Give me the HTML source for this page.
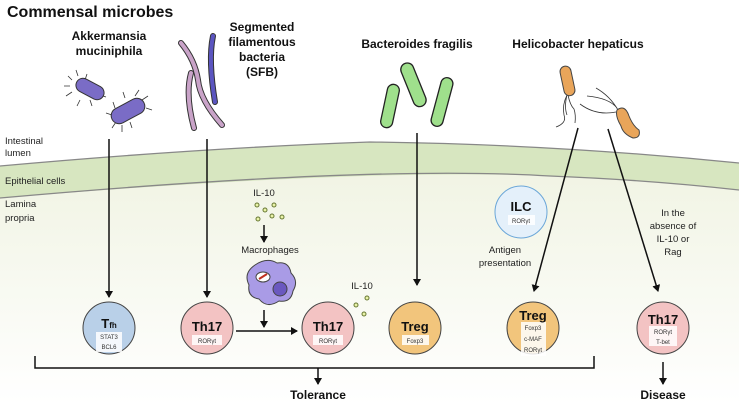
<!DOCTYPE html>
<html><head><meta charset="utf-8"><style>
html,body{margin:0;padding:0;background:#fff}
svg{display:block}
text{font-family:"Liberation Sans",sans-serif}
.b{font-weight:bold}
</style></head><body>
<svg width="739" height="404" viewBox="0 0 739 404" xmlns="http://www.w3.org/2000/svg">
<defs>
<linearGradient id="lp" x1="0" y1="0" x2="0" y2="1"><stop offset="0" stop-color="#f1f4e4"/><stop offset="1" stop-color="#ffffff"/></linearGradient>
<marker id="ah" markerWidth="8" markerHeight="8" refX="6" refY="4" orient="auto" markerUnits="userSpaceOnUse"><path d="M0,0 L7,4 L0,8 Z" fill="#111"/></marker>
</defs>
<!-- lamina propria -->
<path d="M0,198 Q370,165 550,176 Q650,180 739,190 L739,404 L0,404 Z" fill="url(#lp)"/>
<!-- epithelium -->
<path d="M0,166 Q200,148 370,142 Q550,144 739,163 L739,190 Q650,180 550,176 Q370,168 0,198 Z" fill="#d7e6c0"/>
<path d="M0,166 Q200,148 370,142 Q550,144 739,163" fill="none" stroke="#888" stroke-width="1.3"/>
<path d="M0,198 Q370,165 550,176 Q650,180 739,190" fill="none" stroke="#888" stroke-width="1.3"/>

<text x="7" y="17" class="b" font-size="16" fill="#111">Commensal microbes</text>
<g font-size="9.5" fill="#222">
<text x="5" y="144">Intestinal</text><text x="5" y="156">lumen</text>
<text x="5" y="184">Epithelial cells</text>
<text x="5" y="207">Lamina</text><text x="5" y="221">propria</text>
</g>
<g class="b" font-size="12" fill="#111" text-anchor="middle">
<text x="109" y="40">Akkermansia</text><text x="109" y="55">muciniphila</text>
<text x="262" y="31">Segmented</text><text x="262" y="46">filamentous</text><text x="262" y="61">bacteria</text><text x="262" y="76">(SFB)</text>
<text x="417" y="48">Bacteroides fragilis</text>
<text x="578" y="48">Helicobacter hepaticus</text>
</g>

<!-- akkermansia -->
<g stroke="#333" stroke-width="0.8" fill="none">
<path d="M72,80 l-4,-4 M78,76 l-2,-6 M85,80 l2,-6 M96,90 l6,-2 M100,95 l6,2 M70,86 l-6,0 M72,92 l-6,4 M80,100 l-3,6 M90,100 l2,6"/>
<path d="M112,115 l-6,-2 M115,108 l-2,-6 M125,98 l-2,-6 M135,96 l4,-6 M142,100 l6,-4 M146,108 l6,2 M116,122 l-4,6 M122,125 l0,7 M130,122 l2,6"/>
</g>
<rect x="75" y="82" width="30" height="14" rx="7" fill="#7a6cc6" stroke="#333" transform="rotate(28 90 89)"/>
<rect x="110" y="103" width="36" height="16" rx="8" fill="#7a6cc6" stroke="#333" transform="rotate(-28 128 111)"/>

<!-- SFB -->
<g fill="none" stroke-linecap="round">
<path d="M181,43 Q195,60 198,80 Q200,100 222,125" stroke="#333" stroke-width="6"/>
<path d="M181,43 Q195,60 198,80 Q200,100 222,125" stroke="#c9a3c8" stroke-width="4"/>
<path d="M191,73 Q185,95 194,128" stroke="#333" stroke-width="6"/>
<path d="M191,73 Q185,95 194,128" stroke="#c9a3c8" stroke-width="4"/>
<path d="M213,36 Q208,60 215,102" stroke="#333" stroke-width="6"/>
<path d="M213,36 Q208,60 215,102" stroke="#5b55c0" stroke-width="4"/>
</g>

<!-- Bacteroides -->
<g fill="#9fe08c" stroke="#222" stroke-width="1.3">
<rect x="384" y="84" width="12" height="44" rx="6" transform="rotate(12 390 106)"/>
<rect x="407" y="62" width="13" height="46" rx="6.5" transform="rotate(-22 413 85)"/>
<rect x="436" y="77" width="12" height="50" rx="6" transform="rotate(15 442 102)"/>
</g>
<!-- Helicobacter -->
<g fill="none" stroke="#333" stroke-width="0.8">
<path d="M567,95 q-5,10 -3,20 q3,8 -8,12 M568,95 q2,10 6,14 q2,6 1,14 M567,95 q-3,12 0,20"/>
<path d="M617,108 q-8,-10 -30,-12 M618,110 q-8,-14 -22,-22 M616,112 q-20,4 -36,-8"/>
</g>
<rect x="562" y="66" width="11" height="30" rx="5.5" fill="#e9a55a" stroke="#444" transform="rotate(-12 567 81)"/>
<path d="M617,110 q8,-6 12,6 q4,10 10,14 q2,8 -6,8 q-10,-4 -12,-12 q-6,-10 -4,-16z" fill="#e9a55a" stroke="#444"/>

<!-- arrows -->
<g stroke="#111" stroke-width="1.5" fill="none" marker-end="url(#ah)">
<line x1="109" y1="139" x2="109" y2="297"/>
<line x1="207" y1="139" x2="207" y2="297"/>
<line x1="417" y1="133" x2="417" y2="285"/>
<line x1="578" y1="128" x2="534" y2="291"/>
<line x1="608" y1="129" x2="658" y2="291"/>
<line x1="264" y1="225" x2="264" y2="242"/>
<line x1="264" y1="310" x2="264" y2="327"/>
<line x1="236" y1="331" x2="297" y2="331"/>
<line x1="318" y1="368" x2="318" y2="384"/>
<line x1="663" y1="362" x2="663" y2="384"/>
</g>
<path d="M35,356 L35,368 L594,368 L594,356" fill="none" stroke="#111" stroke-width="1.5"/>

<!-- IL-10 dots -->
<g fill="#e9f3a8" stroke="#667733" stroke-width="1">
<circle cx="257" cy="205" r="2"/><circle cx="265" cy="210" r="2"/><circle cx="274" cy="205" r="2"/><circle cx="258" cy="219" r="2"/><circle cx="272" cy="216" r="2"/><circle cx="282" cy="217" r="2"/>
<circle cx="367" cy="298" r="2"/><circle cx="356" cy="305" r="2"/><circle cx="364" cy="314" r="2"/>
</g>
<g font-size="9.5" fill="#222" text-anchor="middle">
<text x="264" y="196">IL-10</text>
<text x="270" y="253">Macrophages</text>
<text x="362" y="289">IL-10</text>
<text x="505" y="253">Antigen</text><text x="505" y="266">presentation</text>
<text x="673" y="216">In the</text><text x="673" y="229">absence of</text><text x="673" y="242">IL-10 or</text><text x="673" y="255">Rag</text>
</g>
<!-- macrophage -->
<path d="M255,265 q12,-8 22,-2 q12,-2 14,10 q8,8 2,18 q-2,12 -14,10 q-12,8 -20,-2 q-12,-2 -10,-14 q-6,-12 6,-20z" fill="#a99be6" stroke="#444"/>
<ellipse cx="263" cy="277" rx="7" ry="5" fill="#fff" stroke="#444"/>
<path d="M259,279 l8,-5" stroke="#c03020" stroke-width="2"/>
<circle cx="280" cy="289" r="7" fill="#6a58c0" stroke="#444"/>

<!-- cells -->
<g stroke="#444" stroke-width="1">
<circle cx="109" cy="328" r="26" fill="#b9d0e8"/>
<circle cx="207" cy="328" r="26" fill="#f3c3c3"/>
<circle cx="328" cy="328" r="26" fill="#f3c3c3"/>
<circle cx="415" cy="328" r="26" fill="#f2c57c"/>
<circle cx="533" cy="328" r="26" fill="#f2c57c"/>
<circle cx="663" cy="328" r="26" fill="#f3c3c3"/>
<circle cx="521" cy="212" r="26" fill="#e4f0fa" stroke="#6aa6d8"/>
</g>
<g fill="#fff" opacity="0.85">
<rect x="96" y="332" width="26" height="20"/>
<rect x="192" y="335" width="30" height="10"/>
<rect x="313" y="335" width="30" height="10"/>
<rect x="402" y="335" width="27" height="10"/>
<rect x="521" y="322" width="25" height="34"/>
<rect x="649" y="326" width="28" height="20"/>
<rect x="508" y="215" width="27" height="10"/>
</g>
<g class="b" font-size="13" fill="#111" text-anchor="middle">
<text x="109" y="328">T<tspan font-size="8">fh</tspan></text>
<text x="207" y="331">Th17</text>
<text x="328" y="331">Th17</text>
<text x="415" y="331">Treg</text>
<text x="533" y="320">Treg</text>
<text x="663" y="324">Th17</text>
<text x="521" y="211">ILC</text>
</g>
<g font-size="6" fill="#333" text-anchor="middle">
<text x="109" y="339">STAT3</text><text x="109" y="349">BCL6</text>
<text x="207" y="343">RORγt</text>
<text x="328" y="343">RORγt</text>
<text x="415" y="343">Foxp3</text>
<text x="533" y="330">Foxp3</text><text x="533" y="341">c-MAF</text><text x="533" y="352">RORγt</text>
<text x="663" y="334">RORγt</text><text x="663" y="344">T-bet</text>
<text x="521" y="223">RORγt</text>
</g>
<g class="b" font-size="12" fill="#111" text-anchor="middle">
<text x="318" y="399">Tolerance</text>
<text x="663" y="399">Disease</text>
</g>
</svg>
</body></html>
